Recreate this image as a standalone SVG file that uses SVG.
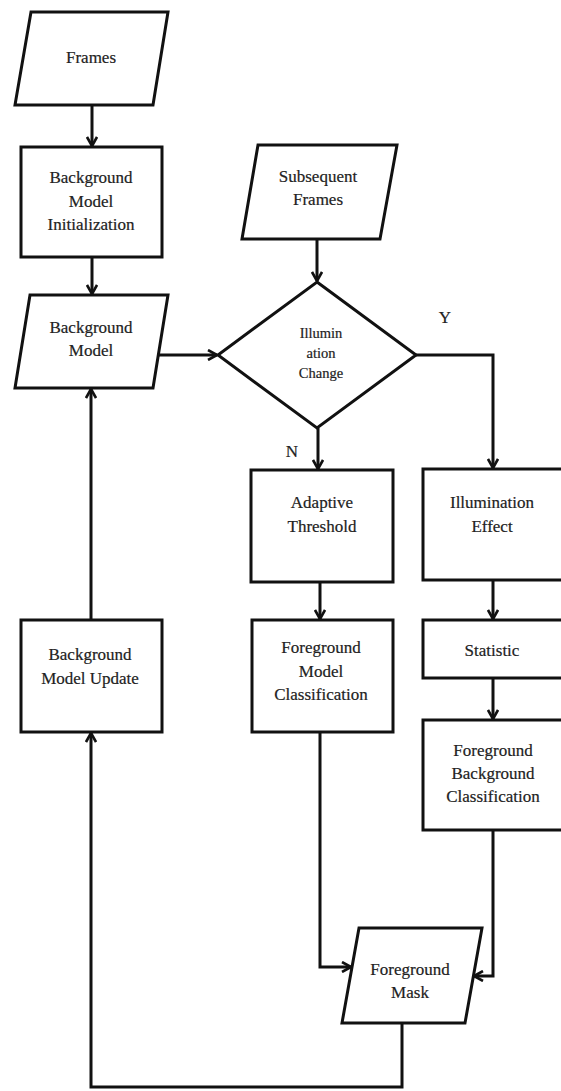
<svg xmlns="http://www.w3.org/2000/svg" width="561" height="1091" viewBox="0 0 561 1091">
  <style>
    .shape { fill: #ffffff; stroke: #111111; stroke-width: 3; stroke-linejoin: miter; }
    .edge { fill: none; stroke: #111111; stroke-width: 3; }
    .lbl { font-family: "Liberation Serif", "Times New Roman", serif; font-size: 17px; fill: #222222; stroke: #222222; stroke-width: 0.2; text-anchor: middle; }
    .small { font-size: 14.5px; }
  </style>
  <defs>
    <marker id="arrow" viewBox="0 0 12 12" markerUnits="userSpaceOnUse" markerWidth="12" markerHeight="12" refX="11" refY="6" orient="auto">
      <path d="M2,1 L11,6 L2,11" fill="none" stroke="#111111" stroke-width="2.6"/>
    </marker>
  </defs>
  <rect width="561" height="1091" fill="#ffffff"/>

  <!-- connectors -->
  <g id="connectors">
    <path class="edge" d="M92,105 V146" marker-end="url(#arrow)"/>
    <path class="edge" d="M92,257 V294" marker-end="url(#arrow)"/>
    <path class="edge" d="M158,355 H217" marker-end="url(#arrow)"/>
    <path class="edge" d="M317,239 V281" marker-end="url(#arrow)"/>
    <path class="edge" d="M318,428 V469" marker-end="url(#arrow)"/>
    <path class="edge" d="M416,355 H493 V468" marker-end="url(#arrow)"/>
    <path class="edge" d="M320,582 V619" marker-end="url(#arrow)"/>
    <path class="edge" d="M493,580 V619" marker-end="url(#arrow)"/>
    <path class="edge" d="M493,678 V719" marker-end="url(#arrow)"/>
    <path class="edge" d="M320,732 V967 H351" marker-end="url(#arrow)"/>
    <path class="edge" d="M493,830 V976 H474" marker-end="url(#arrow)"/>
    <path class="edge" d="M402,1023 V1087 H91 V733" marker-end="url(#arrow)"/>
    <path class="edge" d="M91,620 V389" marker-end="url(#arrow)"/>
  </g>

  <g id="frames">
    <polygon class="shape" points="31,12 168,12 153,105 15,105"/>
    <text class="lbl" x="91" y="63">Frames</text>
  </g>

  <g id="bg-model-init">
    <rect class="shape" x="21" y="147" width="141" height="110"/>
    <text class="lbl" x="91" y="183">Background</text>
    <text class="lbl" x="91" y="207">Model</text>
    <text class="lbl" x="91" y="230">Initialization</text>
  </g>

  <g id="bg-model">
    <polygon class="shape" points="30,295 168,295 153,388 15,388"/>
    <text class="lbl" x="91" y="333">Background</text>
    <text class="lbl" x="91" y="356">Model</text>
  </g>

  <g id="subsequent-frames">
    <polygon class="shape" points="258,145 397,145 380,239 242,239"/>
    <text class="lbl" x="318" y="182">Subsequent</text>
    <text class="lbl" x="318" y="205">Frames</text>
  </g>

  <g id="illumination-change">
    <polygon class="shape" points="317,282 416,355 317,428 218,355"/>
    <text class="lbl small" x="321" y="338">Illumin</text>
    <text class="lbl small" x="321" y="358">ation</text>
    <text class="lbl small" x="321" y="378">Change</text>
  </g>

  <g id="label-y">
    <text class="lbl" x="445" y="323">Y</text>
  </g>
  <g id="label-n">
    <text class="lbl" x="292" y="457">N</text>
  </g>

  <g id="adaptive-threshold">
    <rect class="shape" x="251" y="470" width="142" height="112"/>
    <text class="lbl" x="322" y="508">Adaptive</text>
    <text class="lbl" x="322" y="532">Threshold</text>
  </g>

  <g id="illumination-effect">
    <rect class="shape" x="423" y="469" width="142" height="111"/>
    <text class="lbl" x="492" y="508">Illumination</text>
    <text class="lbl" x="492" y="532">Effect</text>
  </g>

  <g id="bg-model-update">
    <rect class="shape" x="21" y="620" width="141" height="112"/>
    <text class="lbl" x="90" y="660">Background</text>
    <text class="lbl" x="90" y="684">Model Update</text>
  </g>

  <g id="fg-model-class">
    <rect class="shape" x="252" y="620" width="141" height="112"/>
    <text class="lbl" x="321" y="653">Foreground</text>
    <text class="lbl" x="321" y="677">Model</text>
    <text class="lbl" x="321" y="700">Classification</text>
  </g>

  <g id="statistic">
    <rect class="shape" x="423" y="620" width="142" height="58"/>
    <text class="lbl" x="492" y="656">Statistic</text>
  </g>

  <g id="fg-bg-class">
    <rect class="shape" x="423" y="720" width="142" height="110"/>
    <text class="lbl" x="493" y="756">Foreground</text>
    <text class="lbl" x="493" y="779">Background</text>
    <text class="lbl" x="493" y="802">Classification</text>
  </g>

  <g id="fg-mask">
    <polygon class="shape" points="359,928 482,928 465,1023 342,1023"/>
    <text class="lbl" x="410" y="975">Foreground</text>
    <text class="lbl" x="410" y="998">Mask</text>
  </g>
</svg>
